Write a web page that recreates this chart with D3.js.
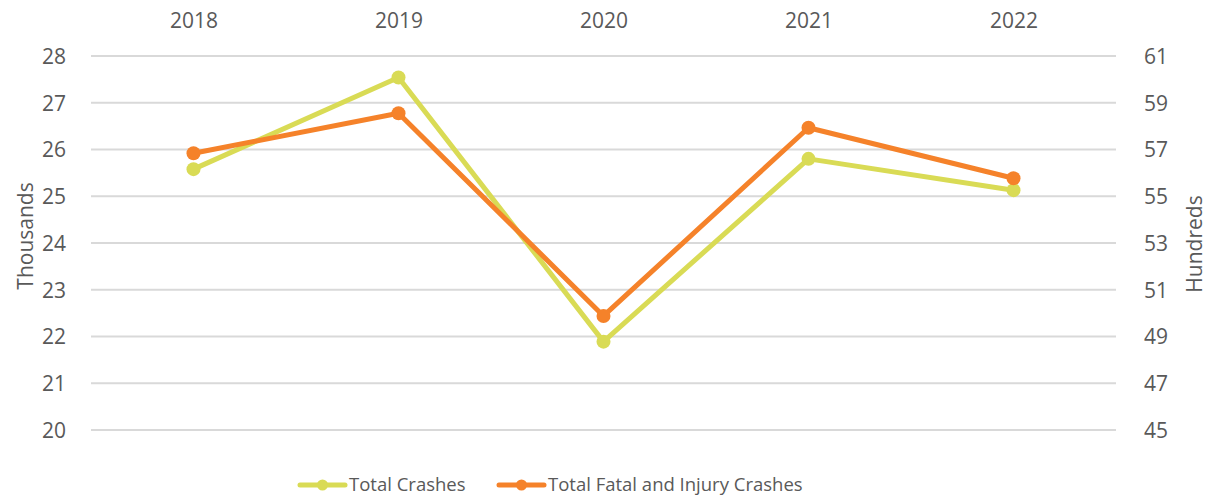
<!DOCTYPE html>
<html>
<head>
<meta charset="utf-8">
<script src="https://cdn.jsdelivr.net/npm/d3@7"></script>
<style>
  body { margin: 0; background: #fff; }
  svg text { font-family: "Open Sans", "Noto Sans", sans-serif; fill: #595959; }
</style>
</head>
<body>
<svg id="chart" width="1210" height="500"></svg>
<script>
// chart data
var years = ["2018", "2019", "2020", "2021", "2022"];
var totalCrashes = [25.58, 27.54, 21.89, 25.80, 25.13];      // thousands
var fatalInjury = [56.84, 58.55, 49.88, 57.93, 55.77];       // hundreds
var leftTicks = [20, 21, 22, 23, 24, 25, 26, 27, 28];
var rightTicks = [45, 47, 49, 51, 53, 55, 57, 59, 61];
var seriesNames = ["Total Crashes", "Total Fatal and Injury Crashes"];
var seriesColors = ["#d9db55", "#f5822a"];

var svg = d3.select("#chart");

var plotLeft = 91, plotRight = 1116, plotTop = 56, plotBottom = 430;

var x = d3.scalePoint().domain(years).range([plotLeft, plotRight]).padding(0.5);
var yL = d3.scaleLinear().domain([20, 28]).range([plotBottom, plotTop]);
var yR = d3.scaleLinear().domain([45, 61]).range([plotBottom, plotTop]);

// gridlines
svg.append("g")
    .selectAll("line")
    .data(leftTicks)
    .enter().append("line")
    .attr("x1", plotLeft)
    .attr("x2", plotRight)
    .attr("y1", function (d) { return yL(d); })
    .attr("y2", function (d) { return yL(d); })
    .attr("stroke", "#d9d9d9")
    .attr("stroke-width", 2);

// left axis
var gl = svg.append("g")
    .attr("transform", "translate(66,0)")
    .call(d3.axisLeft(yL).tickValues(leftTicks).tickSize(0).tickPadding(0));
gl.select(".domain").remove();
gl.selectAll("text").style("font-size", "21px").attr("dy", "0.35em");

// right axis
var gr = svg.append("g")
    .attr("transform", "translate(1144,0)")
    .call(d3.axisRight(yR).tickValues(rightTicks).tickSize(0).tickPadding(0));
gr.select(".domain").remove();
gr.selectAll("text").style("font-size", "21px").attr("dy", "0.35em");

// top category axis
var gt = svg.append("g")
    .attr("transform", "translate(0,21)")
    .call(d3.axisTop(x).tickSize(0).tickPadding(0));
gt.select(".domain").remove();
gt.selectAll("text").style("font-size", "21px").attr("dy", "0.35em");

// axis titles
svg.append("text")
    .attr("transform", "translate(26,236) rotate(-90)")
    .attr("text-anchor", "middle")
    .attr("dy", "0.35em")
    .style("font-size", "21px")
    .text("Thousands");

svg.append("text")
    .attr("transform", "translate(1195,244) rotate(-90)")
    .attr("text-anchor", "middle")
    .attr("dy", "0.35em")
    .style("font-size", "21px")
    .text("Hundreds");

// series
var series = [
    { name: seriesNames[0], values: totalCrashes, y: yL, color: seriesColors[0] },
    { name: seriesNames[1], values: fatalInjury, y: yR, color: seriesColors[1] }
];

series.forEach(function (s) {
    var line = d3.line()
        .x(function (d, i) { return x(years[i]); })
        .y(function (d) { return s.y(d); });

    var g = svg.append("g");
    g.append("path")
        .datum(s.values)
        .attr("d", line)
        .attr("fill", "none")
        .attr("stroke", s.color)
        .attr("stroke-width", 5)
        .attr("stroke-linejoin", "round")
        .attr("stroke-linecap", "round");

    g.selectAll("circle")
        .data(s.values)
        .enter().append("circle")
        .attr("cx", function (d, i) { return x(years[i]); })
        .attr("cy", function (d) { return s.y(d); })
        .attr("r", 7)
        .attr("fill", s.color);
});

// legend
var legendX = [300, 499];
var legend = svg.append("g").attr("transform", "translate(0,485)");
series.forEach(function (s, i) {
    var lg = legend.append("g").attr("transform", "translate(" + legendX[i] + ",0)");
    lg.append("line")
        .attr("x1", 0).attr("x2", 45)
        .attr("y1", 0).attr("y2", 0)
        .attr("stroke", s.color)
        .attr("stroke-width", 5)
        .attr("stroke-linecap", "round");
    lg.append("circle")
        .attr("cx", 22.5).attr("cy", 0)
        .attr("r", 5.5)
        .attr("fill", s.color);
    lg.append("text")
        .attr("x", 49)
        .attr("dy", "0.35em")
        .style("font-size", "18.5px")
        .text(s.name);
});
</script>
</body>
</html>
